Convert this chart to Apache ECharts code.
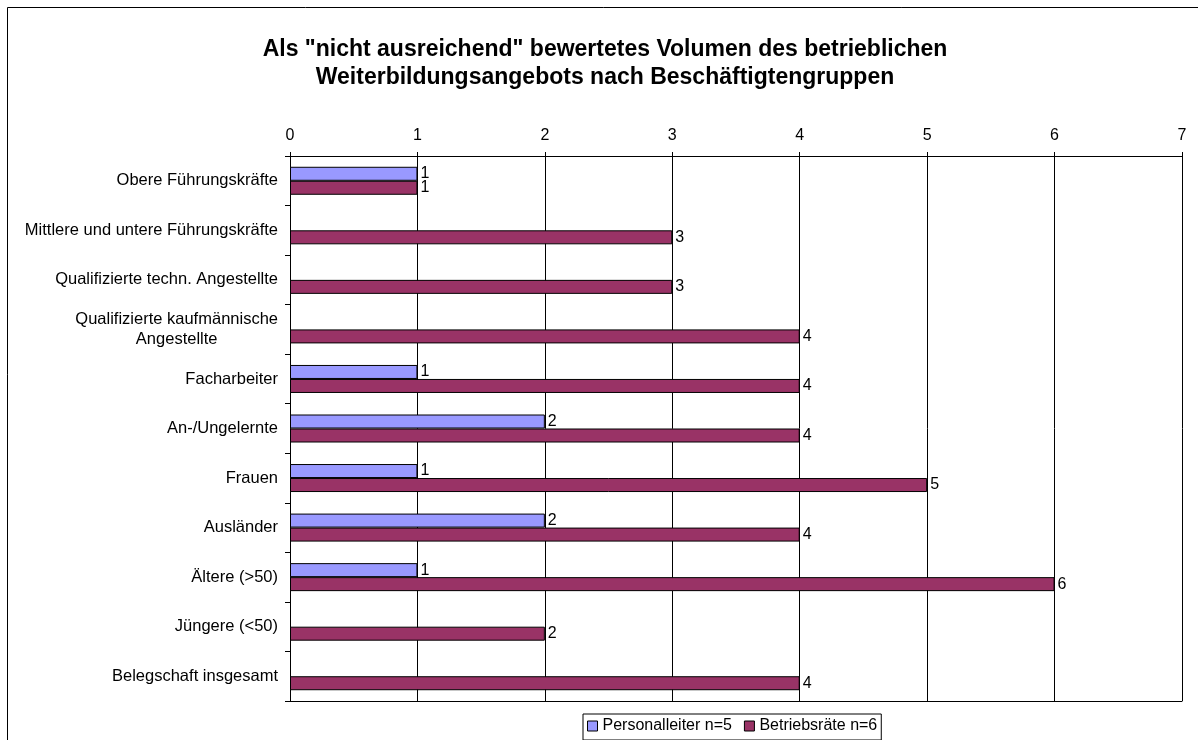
<!DOCTYPE html>
<html>
<head>
<meta charset="utf-8">
<script src="https://cdn.jsdelivr.net/npm/echarts@6/dist/echarts.min.js"></script>
<style>
  html, body { margin: 0; padding: 0; background: #fff; }
  #chart { width: 1198px; height: 740px; }
</style>
</head>
<body>
<div id="chart"></div>
<script>
const categories = [
  "Obere Führungskräfte",
  "Mittlere und untere Führungskräfte",
  "Qualifizierte techn. Angestellte",
  "Qualifizierte kaufmännische\nAngestellte",
  "Facharbeiter",
  "An-/Ungelernte",
  "Frauen",
  "Ausländer",
  "Ältere (>50)",
  "Jüngere (<50)",
  "Belegschaft insgesamt"
];
const personalleiter = [1, "-", "-", "-", 1, 2, 1, 2, 1, "-", "-"];
const betriebsraete = [1, 3, 3, 4, 4, 4, 5, 4, 6, 2, 4];
const xTicks = [0, 1, 2, 3, 4, 5, 6, 7];

const font = "'Liberation Sans', Arial, sans-serif";
const chart = echarts.init(document.getElementById("chart"));

chart.setOption({
  backgroundColor: "#fff",
  animation: false,
  textStyle: { fontFamily: font },

  title: {
    text: 'Als "nicht ausreichend" bewertetes Volumen des betrieblichen\nWeiterbildungsangebots nach Beschäftigtengruppen',
    left: 600,
    textAlign: "center",
    top: 31,
    textStyle: { fontFamily: font, fontSize: 23, fontWeight: "bold", lineHeight: 28, color: "#000" },
  },

  graphic: [
    {
      type: "rect",
      shape: { x: 7.5, y: 7.5, width: 1400, height: 1000 },
      style: { fill: "none", stroke: "#000", lineWidth: 1 },
      silent: true,
    },
  ],

  legend: {
    left: 583,
    top: 714,
    padding: [4, 4, 6, 4],
    itemGap: 12,
    itemWidth: 10,
    itemHeight: 10,
    borderColor: "#000",
    borderWidth: 1,
    icon: "rect",
    textStyle: { fontFamily: font, fontSize: 16, color: "#000" },
    data: [
      { name: "Personalleiter n=5", itemStyle: { borderColor: "#000", borderWidth: 1 } },
      { name: "Betriebsräte n=6", itemStyle: { borderColor: "#000", borderWidth: 1 } },
    ],
  },

  grid: { left: 290, right: 16, top: 156, bottom: 39, containLabel: false },

  xAxis: [
    {
      type: "value",
      position: "top",
      min: xTicks[0],
      max: xTicks[xTicks.length - 1],
      interval: 1,
      axisLine: { show: true, lineStyle: { color: "#000", width: 1 } },
      axisTick: { show: true, length: 4, lineStyle: { color: "#000" } },
      axisLabel: { color: "#000", fontSize: 16, margin: 12, fontFamily: font },
      splitLine: { show: true, lineStyle: { color: "#000", width: 1 } },
    },
    {
      type: "value",
      position: "bottom",
      min: xTicks[0],
      max: xTicks[xTicks.length - 1],
      interval: 1,
      axisLine: { show: true, onZero: false, lineStyle: { color: "#000", width: 1 } },
      axisTick: { show: false },
      axisLabel: { show: false },
      splitLine: { show: false },
    },
  ],

  yAxis: {
    type: "category",
    inverse: true,
    data: categories,
    axisLine: { show: true, lineStyle: { color: "#000", width: 1 } },
    axisTick: { show: true, length: 5, alignWithLabel: false, lineStyle: { color: "#000" } },
    axisLabel: {
      color: "#000",
      fontSize: 16.5,
      margin: 12,
      lineHeight: 20,
      fontFamily: font,
      formatter: (v) => v.split("\n").map((s) => "{c|" + s + "}").join("\n"),
      rich: { c: { align: "center", fontSize: 16.5, lineHeight: 20, fontFamily: font, color: "#000" } },
    },
  },

  series: [
    {
      name: "Personalleiter n=5",
      type: "bar",
      data: personalleiter,
      barWidth: 14,
      barGap: "0%",
      itemStyle: { color: "#9999FF", borderColor: "#000", borderWidth: 1 },
      label: { show: true, position: "right", distance: 3, color: "#000", fontSize: 16, fontFamily: font },
    },
    {
      name: "Betriebsräte n=6",
      type: "bar",
      data: betriebsraete,
      barWidth: 14,
      barGap: "0%",
      itemStyle: { color: "#993366", borderColor: "#000", borderWidth: 1 },
      label: { show: true, position: "right", distance: 3, color: "#000", fontSize: 16, fontFamily: font },
    },
  ],
});

window.addEventListener("resize", () => chart.resize());
</script>
</body>
</html>
